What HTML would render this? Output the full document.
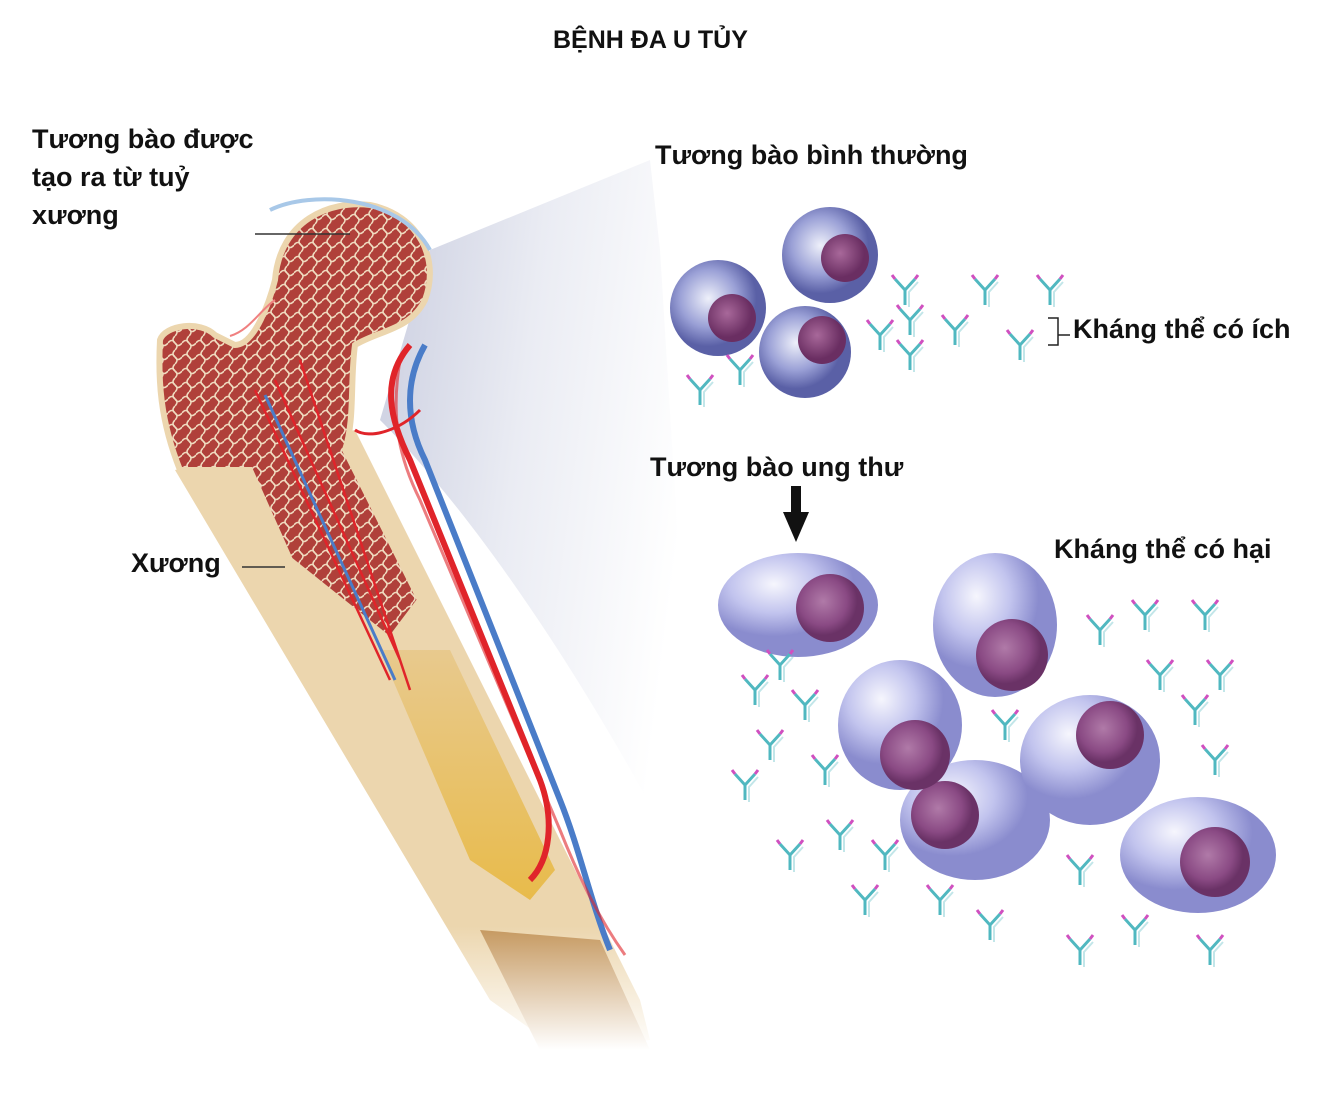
<!DOCTYPE html>
<html><head><meta charset="utf-8"><style>
html,body{margin:0;padding:0;background:#fff;}
body{width:1328px;height:1108px;position:relative;overflow:hidden;font-family:"Liberation Sans","DejaVu Sans",sans-serif;}
.t{position:absolute;font-weight:bold;color:#111;white-space:nowrap;}
</style></head><body>
<svg width="1328" height="1108" style="position:absolute;left:0;top:0">
<defs>
<linearGradient id="cone" x1="0" y1="0" x2="1" y2="0.3">
<stop offset="0" stop-color="#c4c8dc"/><stop offset="0.5" stop-color="#e8eaf2"/><stop offset="1" stop-color="#fff"/></linearGradient>
<pattern id="sp" width="14" height="14" patternUnits="userSpaceOnUse">
<rect width="14" height="14" fill="#b0403a"/><path d="M0 7 Q4 2 7 7 T14 7 M7 0 Q3 4 7 7 T7 14" stroke="#f0dcc0" stroke-width="1.6" fill="none"/></pattern>
<linearGradient id="shaft" x1="0" y1="0" x2="0" y2="1"><stop offset="0.8" stop-color="#ecd6ae"/><stop offset="1" stop-color="#fff"/></linearGradient>
<linearGradient id="shaft2" x1="0" y1="0" x2="0" y2="1"><stop offset="0" stop-color="#c69a62"/><stop offset="1" stop-color="#fff"/></linearGradient>
<radialGradient id="nc" cx="0.4" cy="0.4"><stop offset="0" stop-color="#eef0fa"/><stop offset="0.6" stop-color="#9aa0d6"/><stop offset="1" stop-color="#5a60a6"/></radialGradient>
<radialGradient id="cc" cx="0.35" cy="0.3"><stop offset="0" stop-color="#f6f6fd"/><stop offset="0.55" stop-color="#c2c4ee"/><stop offset="1" stop-color="#8a8cce"/></radialGradient>
<radialGradient id="nu" cx="0.4" cy="0.4"><stop offset="0" stop-color="#a8689a"/><stop offset="1" stop-color="#6a2e62"/></radialGradient>
<radialGradient id="nu2" cx="0.4" cy="0.4"><stop offset="0" stop-color="#b07aa8"/><stop offset="0.7" stop-color="#8a4a84"/><stop offset="1" stop-color="#6a3266"/></radialGradient>
<linearGradient id="mar" x1="0" y1="0" x2="0" y2="1"><stop offset="0" stop-color="#e8c88a"/><stop offset="1" stop-color="#e8b840"/></linearGradient>
<g id="ab"><path d="M0 0 L0 -15 M0 -15 L-10 -26 M0 -15 L10 -26" stroke="#50b8c0" stroke-width="3" fill="none"/><path d="M-10 -26 l-3 -4 M10 -26 l3 -4" stroke="#d050c0" stroke-width="3"/><path d="M4 2 L4 -13 L13 -23" stroke="#50b8c0" stroke-width="2" fill="none" opacity="0.35"/></g>
</defs>
<path d="M430 250 L650 160 L660 250 L700 900 C600 700 480 520 380 420 Z" fill="url(#cone)" opacity="0.9"/>
<path d="M175 470 L490 1000 L560 1050 L650 1040 L640 1000 L355 430 Z" fill="url(#shaft)"/>
<path d="M480 930 L540 1050 L650 1050 L600 940 Z" fill="url(#shaft2)"/>
<path d="M380 650 L470 860 L530 900 L555 870 L450 650 Z" fill="url(#mar)" opacity="0.9"/>
<path d="M160 340 C165 325 200 320 215 335 L235 345 C255 345 270 300 275 280 C280 220 330 200 370 205 C420 215 440 260 425 300 C410 330 380 330 355 345 C350 380 355 420 345 450 L420 600 L390 640 L290 560 L250 470 L180 470 C160 420 158 380 160 340 Z" fill="url(#sp)" stroke="#ecd6ae" stroke-width="6"/>
<path d="M270 210 C310 190 400 195 430 250" stroke="#a8c8e8" stroke-width="4" fill="none"/>
<path d="M410 345 C380 380 390 420 410 460 L540 780 C555 820 550 860 530 880" stroke="#e0242a" stroke-width="6" fill="none"/>
<path d="M425 345 C405 380 405 420 425 460 L560 800 C580 850 590 900 610 950" stroke="#4a7cc8" stroke-width="6" fill="none"/>
<path d="M400 360 C390 420 400 460 420 500 L560 830 C580 880 600 920 625 955" stroke="#e0242a" stroke-width="3" fill="none" opacity="0.6"/>
<path d="M355 430 C370 440 400 430 420 410" stroke="#e0242a" stroke-width="3" fill="none"/>
<path d="M255 390 L390 680 M275 380 L400 660 M300 360 L410 690" stroke="#e0242a" stroke-width="2.5" fill="none"/>
<path d="M265 395 L395 680" stroke="#4a7cc8" stroke-width="3" fill="none"/>
<path d="M230 336 C250 330 260 310 275 300" stroke="#f08080" stroke-width="2" fill="none"/>
<line x1="255" y1="234" x2="350" y2="234" stroke="#333" stroke-width="1.5"/>
<line x1="242" y1="567" x2="285" y2="567" stroke="#333" stroke-width="1.5"/>
<g>
<circle cx="718" cy="308" r="48" fill="url(#nc)"/><circle cx="732" cy="318" r="24" fill="url(#nu)"/>
<circle cx="830" cy="255" r="48" fill="url(#nc)"/><circle cx="845" cy="258" r="24" fill="url(#nu)"/>
<circle cx="805" cy="352" r="46" fill="url(#nc)"/><circle cx="822" cy="340" r="24" fill="url(#nu)"/>
</g>
<g>
<ellipse cx="798" cy="605" rx="80" ry="52" fill="url(#cc)"/><circle cx="830" cy="608" r="34" fill="url(#nu2)"/>
<ellipse cx="995" cy="625" rx="62" ry="72" fill="url(#cc)"/><circle cx="1012" cy="655" r="36" fill="url(#nu2)"/>
<ellipse cx="975" cy="820" rx="75" ry="60" fill="url(#cc)"/><circle cx="945" cy="815" r="34" fill="url(#nu2)"/>
<ellipse cx="1090" cy="760" rx="70" ry="65" fill="url(#cc)"/><circle cx="1110" cy="735" r="34" fill="url(#nu2)"/>
<ellipse cx="900" cy="725" rx="62" ry="65" fill="url(#cc)"/><circle cx="915" cy="755" r="35" fill="url(#nu2)"/>
<ellipse cx="1198" cy="855" rx="78" ry="58" fill="url(#cc)"/><circle cx="1215" cy="862" r="35" fill="url(#nu2)"/>
</g>
<g>
<use href="#ab" x="905" y="305"/><use href="#ab" x="985" y="305"/><use href="#ab" x="1050" y="305"/><use href="#ab" x="955" y="345"/><use href="#ab" x="1020" y="360"/><use href="#ab" x="910" y="370"/><use href="#ab" x="880" y="350"/><use href="#ab" x="700" y="405"/><use href="#ab" x="740" y="385"/><use href="#ab" x="910" y="335"/>
<use href="#ab" x="1145" y="630"/><use href="#ab" x="1205" y="630"/><use href="#ab" x="1100" y="645"/><use href="#ab" x="1160" y="690"/><use href="#ab" x="1220" y="690"/><use href="#ab" x="1195" y="725"/><use href="#ab" x="1215" y="775"/>
<use href="#ab" x="755" y="705"/><use href="#ab" x="805" y="720"/><use href="#ab" x="770" y="760"/><use href="#ab" x="825" y="785"/><use href="#ab" x="745" y="800"/><use href="#ab" x="840" y="850"/><use href="#ab" x="790" y="870"/><use href="#ab" x="885" y="870"/><use href="#ab" x="865" y="915"/><use href="#ab" x="940" y="915"/><use href="#ab" x="990" y="940"/><use href="#ab" x="1080" y="885"/><use href="#ab" x="1080" y="965"/><use href="#ab" x="1135" y="945"/><use href="#ab" x="1210" y="965"/><use href="#ab" x="1005" y="740"/><use href="#ab" x="780" y="680"/>
</g>
<rect x="791" y="486" width="10" height="28" fill="#111"/><path d="M783 512 L809 512 L796 542 Z" fill="#111"/>
<path d="M1048 318 L1058 318 L1058 335 L1070 335 M1058 335 L1058 345 L1048 345" stroke="#222" stroke-width="1.5" fill="none"/>
</svg>
<div class="t" style="left:553px;top:26px;font-size:25px;">BỆNH ĐA U TỦY</div>
<div class="t" style="left:32px;top:120px;font-size:27px;line-height:38px;">Tương bào được<br>tạo ra từ tuỷ<br>xương</div>
<div class="t" style="left:131px;top:548px;font-size:27px;">Xương</div>
<div class="t" style="left:655px;top:140px;font-size:27px;">Tương bào bình thường</div>
<div class="t" style="left:1073px;top:314px;font-size:27px;">Kháng thể có ích</div>
<div class="t" style="left:650px;top:452px;font-size:27px;">Tương bào ung thư</div>
<div class="t" style="left:1054px;top:534px;font-size:27px;">Kháng thể có hại</div>
</body></html>
